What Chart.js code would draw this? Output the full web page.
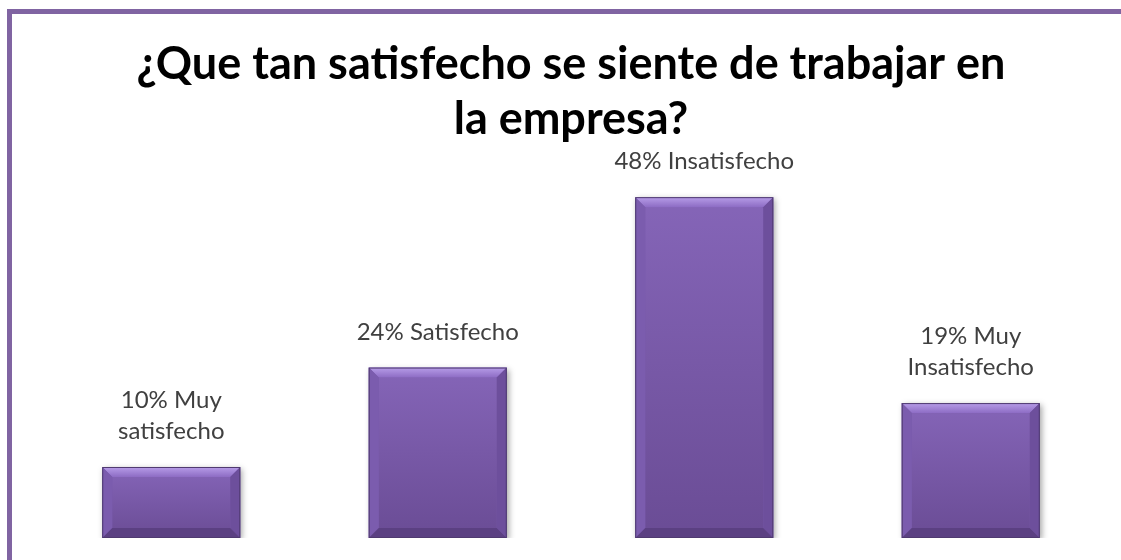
<!DOCTYPE html>
<html>
<head>
<meta charset="utf-8">
<script src="https://cdn.jsdelivr.net/npm/chart.js@4.4.1/dist/chart.umd.min.js"></script>
<style>
  body { margin: 0; background: #fff; }
  #wrap { position: relative; width: 1121px; height: 560px; overflow: hidden; }
  #frame { position: absolute; left: 7px; top: 9px; width: 1200px; height: 600px;
           border-left: 5px solid #8064A2; border-top: 5px solid #8064A2; }
  canvas { position: absolute; left: 0; top: 0; }
</style>
</head>
<body>
<div id="wrap">
  <div id="frame"></div>
  <canvas id="bar-chartcanvas" width="1121" height="560"></canvas>
</div>
<script>
// data
var categorias = ["Muy satisfecho", "Satisfecho", "Insatisfecho", "Muy Insatisfecho"];
var porcentaje = [10, 24, 48, 19];
var etiquetas = [
	["10% Muy", "satisfecho"],
	["24% Satisfecho"],
	["48% Insatisfecho"],
	["19% Muy", "Insatisfecho"]
];
var titulo = ["¿Que tan satisfecho se siente de trabajar en", "la empresa?"];

// shadow under the bars
var sombra = {
	id : "sombra",
	beforeDatasetsDraw : function(chart) {
		var ctx = chart.ctx;
		ctx.save();
		ctx.shadowColor = "rgba(0,0,0,0.35)";
		ctx.shadowBlur = 6;
		ctx.shadowOffsetX = 2;
		ctx.shadowOffsetY = 2;
	},
	afterDatasetsDraw : function(chart) {
		chart.ctx.restore();
	}
};

// bevel look + text above each bar
var bisel = {
	id : "bisel",
	afterDatasetsDraw : function(chart) {
		var ctx = chart.ctx;
		var meta = chart.getDatasetMeta(0);
		meta.data.forEach(function(bar, i) {
			var x0 = bar.x - bar.width / 2, x1 = bar.x + bar.width / 2;
			var y0 = bar.y, y1 = bar.base;
			var b = 10;
			ctx.save();
			// body gradient
			var g = ctx.createLinearGradient(0, y0, 0, y1);
			g.addColorStop(0, "#8565b8");
			g.addColorStop(1, "#6a4c95");
			ctx.fillStyle = g;
			ctx.fillRect(x0 + b, y0 + b, x1 - x0 - 2 * b, y1 - y0 - 2 * b);
			// top
			var gt = ctx.createLinearGradient(0, y0, 0, y0 + b);
			gt.addColorStop(0, "#b79de8");
			gt.addColorStop(1, "#8d6cc4");
			ctx.fillStyle = gt;
			ctx.beginPath();
			ctx.moveTo(x0, y0); ctx.lineTo(x1, y0); ctx.lineTo(x1 - b, y0 + b); ctx.lineTo(x0 + b, y0 + b);
			ctx.closePath(); ctx.fill();
			// left
			ctx.fillStyle = "#7b5cae";
			ctx.beginPath();
			ctx.moveTo(x0, y0); ctx.lineTo(x0 + b, y0 + b); ctx.lineTo(x0 + b, y1 - b); ctx.lineTo(x0, y1);
			ctx.closePath(); ctx.fill();
			// right
			ctx.fillStyle = "#6d4f9c";
			ctx.beginPath();
			ctx.moveTo(x1, y0); ctx.lineTo(x1 - b, y0 + b); ctx.lineTo(x1 - b, y1 - b); ctx.lineTo(x1, y1);
			ctx.closePath(); ctx.fill();
			// bottom
			ctx.fillStyle = "#5b4082";
			ctx.beginPath();
			ctx.moveTo(x0, y1); ctx.lineTo(x1, y1); ctx.lineTo(x1 - b, y1 - b); ctx.lineTo(x0 + b, y1 - b);
			ctx.closePath(); ctx.fill();
			// outline
			ctx.strokeStyle = "#4f3a70";
			ctx.lineWidth = 1;
			ctx.strokeRect(x0 + 0.5, y0 + 0.5, x1 - x0 - 1, y1 - y0 - 1);

			// label text
			var lines = etiquetas[i];
			ctx.fillStyle = "#404040";
			ctx.font = "24px Lato, 'Open Sans', sans-serif";
			ctx.textAlign = "center";
			ctx.textBaseline = "alphabetic";
			for (var k = 0; k < lines.length; k++) {
				var yy = y0 - 28 - (lines.length - 1 - k) * 31;
				ctx.fillText(lines[k], bar.x, yy);
			}
			ctx.restore();
		});
	}
};

var ctx = document.getElementById("bar-chartcanvas");

var data = {
	labels : categorias,
	datasets : [
		{
			label : "Porcentaje",
			data : porcentaje,
			backgroundColor : "#7a5bab",
			borderWidth : 0,
			barPercentage : 0.518,
			categoryPercentage : 1
		}
	]
};

var options = {
	responsive : false,
	animation : false,
	layout : {
		padding : { left : 38, right : 17, top : 36, bottom : 22 }
	},
	plugins : {
		title : {
			display : true,
			position : "top",
			text : titulo,
			color : "#000",
			font : { family : "Lato, 'Open Sans', sans-serif", size : 45, weight : "bold", lineHeight : 1.244 },
			padding : { top : 0, bottom : 35 }
		},
		legend : { display : false },
		tooltip : { enabled : false }
	},
	scales : {
		x : { display : false },
		y : { display : false, min : 0, max : 50 }
	}
};

var chart = new Chart(ctx, {
	type : "bar",
	data : data,
	options : options,
	plugins : [sombra, bisel]
});
</script>
</body>
</html>
